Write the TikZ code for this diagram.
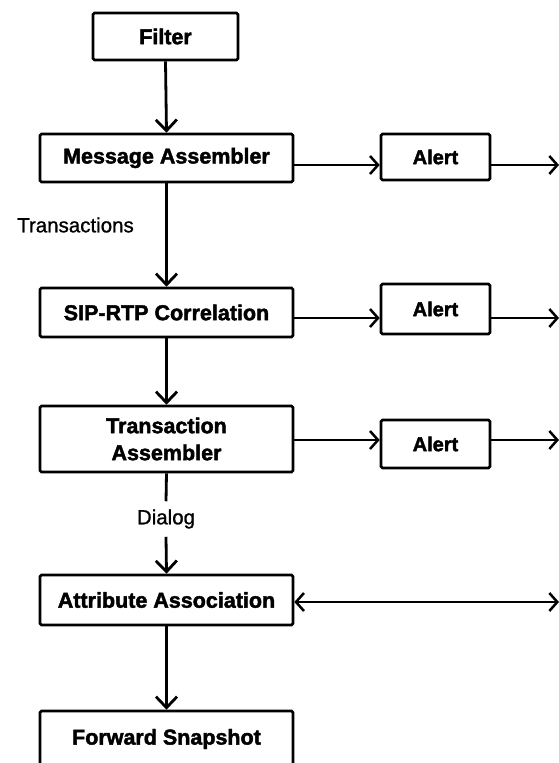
\documentclass[tikz,border=0pt]{standalone}
\usepackage{fontspec}
\setmainfont{Liberation Sans}[BoldFeatures={FakeBold=2}]
\newfontfamily\labfont{Liberation Sans}[FakeBold=1]
\usetikzlibrary{arrows.meta}
\begin{document}
\begin{tikzpicture}[x=1pt,y=-1pt,
  box/.style={draw, line width=2.6pt, rounded corners=1.5pt, align=center, inner sep=0pt,
    font=\bfseries\fontsize{21.5}{27}\selectfont, minimum width=253pt},
  alertbox/.style={draw, line width=2.6pt, rounded corners=1.5pt, inner sep=0pt,
    font=\bfseries\fontsize{20}{24}\selectfont, minimum width=109pt},
  lab/.style={inner sep=0pt, font=\labfont\fontsize{20.5}{24}\selectfont},
  conn/.style={line width=2.8pt, -{Straight Barb[length=11pt,width=21pt]}},
  hconn/.style={line width=2.5pt, -{Straight Barb[length=8pt,width=18pt]}},
  bconn/.style={line width=2.5pt, {Straight Barb[length=8pt,width=18pt]}-{Straight Barb[length=8pt,width=18pt]}}]
\useasboundingbox (0,0) rectangle (559,763);
\clip (0,0) rectangle (559,763);
\fill[white] (0,0) rectangle (559,763);
\node[box, minimum width=145pt, minimum height=47pt] (filter) at (165.5,36.5) {Filter};
\node[box, minimum height=48pt] (ma) at (166.5,158) {Message Assembler};
\node[alertbox, minimum height=46pt] (a1) at (435.5,157) {Alert};
\node[lab] (tr) at (75.5,225) {Transactions};
\node[box, minimum height=49pt] (sip) at (166.5,312.5) {SIP-RTP Correlation};
\node[alertbox, minimum height=50pt] (a2) at (435.5,309) {Alert};
\node[box, minimum height=66pt] (ta) at (166.5,439) {Transaction\\Assembler};
\node[alertbox, minimum height=48pt] (a3) at (435.5,444) {Alert};
\node[lab, inner ysep=8pt] (dl) at (166,519) {Dialog};
\node[box, minimum height=50pt] (aa) at (166.5,600) {Attribute Association};
\node[box, minimum height=56pt] (fs) at (166.5,739) {Forward Snapshot};
\coordinate (r1) at (559,165);
\coordinate (r2) at (559,318);
\coordinate (r3) at (559,440);
\coordinate (r4) at (559,602);
\draw[conn] (filter.south) -- (ma.north);
\draw[conn] (ma.south) -- (sip.north);
\draw[conn] (sip.south) -- (ta.north);
\draw[line width=2.8pt] (ta.south) -- (dl.north);
\draw[conn] (dl.south) -- (aa.north);
\draw[conn] (aa.south) -- (fs.north);
\draw[hconn] (ma.east |- r1) -- (a1.west |- r1);
\draw[hconn] (a1.east |- r1) -- (r1);
\draw[hconn] (sip.east |- r2) -- (a2.west |- r2);
\draw[hconn] (a2.east |- r2) -- (r2);
\draw[hconn] (ta.east |- r3) -- (a3.west |- r3);
\draw[hconn] (a3.east |- r3) -- (r3);
\draw[bconn] (r4) -- (aa.east |- r4);
\end{tikzpicture}
\end{document}
